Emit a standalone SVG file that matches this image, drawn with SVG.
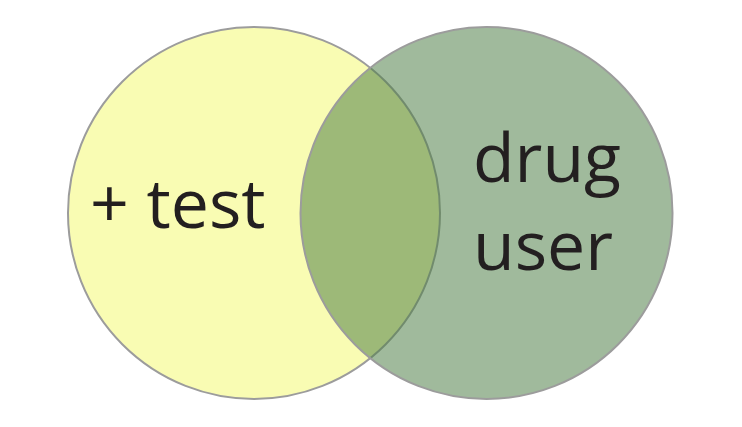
<svg xmlns="http://www.w3.org/2000/svg" width="742" height="427" viewBox="0 0 742 427">
<style>
.c{stroke:#9c9c9c;stroke-width:2}
.t{font-family:"Open Sans","Noto Sans",sans-serif;font-size:68px;fill:#231f20}
</style>
<rect width="742" height="427" fill="#fff"/>
<g id="positive-test">
<circle class="c" cx="254" cy="213" r="186" fill="#f9fcb3"/>
<text class="t" x="90" y="228">+ test</text>
</g>
<g id="drug-user">
<circle class="c" cx="486.5" cy="213" r="186" fill="#4b7d44" fill-opacity="0.53"/>
<text class="t" x="473" y="182">drug</text>
<text class="t" x="473" y="270">user</text>
</g>
<g id="connectors"/>
</svg>
